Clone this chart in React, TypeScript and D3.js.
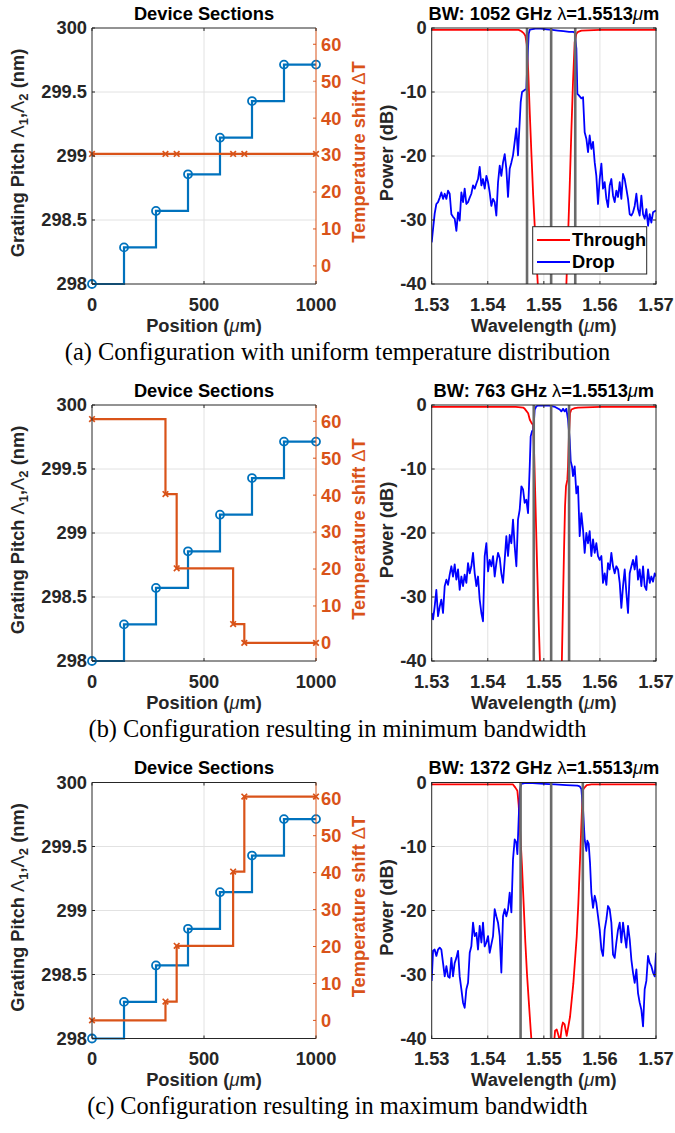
import React from 'react';
import * as d3 from 'd3';

// ---------------- data ----------------
const positions = [0, 142.9, 285.7, 428.6, 571.4, 714.3, 857.1, 1000];
const pitch = [298.0, 298.286, 298.571, 298.857, 299.143, 299.429, 299.714, 299.714];
const tempPositions = [0, 328, 378, 630, 680, 1000];
const tempA = [30.3, 30.3, 30.3, 30.3, 30.3, 30.3];
const tempB = [60.6, 40.3, 20.2, 5.1, 0, 0];
const tempC = [0, 5.1, 20.2, 40.3, 60.6, 60.6];

const posTicks = [0, 500, 1000];
const pitchTicks = [298, 298.5, 299, 299.5, 300];
const tempTicks = [0, 10, 20, 30, 40, 50, 60];
const wlTicks = [1530, 1540, 1550, 1560, 1570];
const dbTicks = [0, -10, -20, -30, -40];

const bandwidthsGHz = [1052, 763, 1372];
const centerNm = 1551.3;
const edgesNm = [
  [1547.0, 1555.6],
  [1548.2, 1554.5],
  [1545.85, 1556.95],
];
const captions = [
  '(a) Configuration with uniform temperature distribution',
  '(b) Configuration resulting in minimum bandwidth',
  '(c) Configuration resulting in maximum bandwidth',
];

// [wavelength nm, power dB]
const dropA = [[1530.0,-33.5],[1530.24,-31.4],[1530.53,-29.0],[1530.83,-27.5],[1531.13,-27.2],[1531.43,-26.5],[1531.72,-25.7],[1532.02,-26.7],[1532.32,-25.9],[1532.62,-26.7],[1532.91,-25.4],[1533.21,-25.9],[1533.51,-29.1],[1533.80,-29.5],[1534.10,-29.8],[1534.40,-31.7],[1534.70,-28.8],[1534.99,-30.1],[1535.29,-25.7],[1535.59,-27.2],[1535.88,-25.1],[1536.18,-27.5],[1536.48,-27.2],[1536.78,-26.5],[1537.07,-25.9],[1537.37,-24.6],[1537.67,-25.1],[1537.97,-24.3],[1538.26,-23.6],[1538.56,-21.7],[1538.86,-24.6],[1539.15,-23.6],[1539.45,-25.1],[1539.75,-23.1],[1540.05,-24.1],[1540.34,-25.7],[1540.64,-27.8],[1540.94,-26.7],[1541.23,-27.2],[1541.53,-29.3],[1541.83,-24.1],[1542.13,-21.5],[1542.42,-23.1],[1542.72,-21.0],[1543.02,-19.7],[1543.31,-22.0],[1543.61,-26.4],[1543.91,-22.0],[1544.21,-21.0],[1544.50,-19.9],[1544.80,-17.8],[1545.10,-15.7],[1545.39,-19.9],[1545.51,-17.8],[1545.87,-11.6],[1546.11,-10.0],[1546.58,-9.7],[1546.88,-9.5],[1547.06,-5.3],[1547.30,-0.9],[1547.48,-0.3],[1547.77,-0.2],[1548.5,-0.1],[1549.5,-0.1],[1550.5,-0.2],[1551.5,-0.3],[1552.5,-0.4],[1553.5,-0.5],[1554.5,-0.6],[1555.2,-0.6],[1555.5,-0.7],[1555.80,-3.2],[1555.98,-10.3],[1556.21,-10.5],[1556.69,-11.0],[1556.99,-10.8],[1557.28,-16.3],[1557.58,-17.3],[1557.88,-19.4],[1558.17,-16.8],[1558.47,-18.9],[1558.77,-17.8],[1559.07,-21.0],[1559.36,-23.1],[1559.66,-27.5],[1559.96,-23.6],[1560.26,-21.2],[1560.55,-25.1],[1560.85,-24.1],[1561.15,-26.7],[1561.44,-28.0],[1561.74,-24.6],[1562.04,-23.6],[1562.34,-26.2],[1562.63,-27.2],[1562.93,-25.4],[1563.23,-26.4],[1563.53,-24.1],[1563.82,-26.7],[1564.12,-22.8],[1564.42,-23.6],[1564.71,-25.1],[1565.01,-26.7],[1565.31,-29.1],[1565.61,-29.3],[1565.90,-28.8],[1566.20,-27.8],[1566.50,-25.9],[1566.79,-28.3],[1567.09,-29.3],[1567.39,-26.2],[1567.69,-29.1],[1567.98,-29.8],[1568.28,-28.3],[1568.58,-30.9],[1568.88,-29.1],[1569.17,-30.4],[1569.47,-28.8],[1570.0,-28.5]];
const throughA = [[1530,-0.3],[1536,-0.3],[1542,-0.3],[1545.5,-0.3],[1546.0,-0.5],[1546.4,-0.8],[1546.7,-1.2],[1546.95,-2.5],[1547.2,-6.5],[1547.5,-13.5],[1547.8,-20.0],[1548.1,-26.2],[1548.4,-31.4],[1548.7,-36.6],[1548.95,-40.5],[1549.5,-48],[1551.5,-55],[1553.5,-48],[1554.0,-40.5],[1554.3,-33.0],[1554.6,-25.0],[1554.9,-16.3],[1555.2,-8.4],[1555.5,-2.2],[1555.8,-0.9],[1556.1,-0.6],[1556.7,-0.4],[1560,-0.3],[1565,-0.3],[1570,-0.3]];

const dropB = [[1530.0,-32.5],[1530.24,-33.5],[1530.53,-31.5],[1530.83,-28.9],[1531.13,-33.0],[1531.43,-31.5],[1531.72,-30.4],[1532.02,-32.5],[1532.32,-28.3],[1532.62,-27.3],[1532.91,-28.1],[1533.21,-26.5],[1533.51,-25.2],[1533.80,-26.8],[1534.10,-24.9],[1534.40,-27.3],[1534.70,-25.7],[1534.99,-28.9],[1535.29,-26.8],[1535.59,-28.3],[1535.88,-26.5],[1536.18,-27.8],[1536.48,-24.7],[1536.78,-26.3],[1537.07,-25.2],[1537.37,-23.1],[1537.67,-26.3],[1537.97,-28.3],[1538.26,-26.8],[1538.56,-30.4],[1538.86,-32.5],[1539.15,-33.8],[1539.45,-23.6],[1539.75,-21.6],[1540.05,-26.0],[1540.34,-24.2],[1540.64,-25.2],[1540.94,-23.6],[1541.23,-26.8],[1541.53,-24.7],[1541.83,-23.1],[1542.13,-23.9],[1542.42,-26.3],[1542.72,-27.8],[1543.02,-24.2],[1543.31,-20.5],[1543.61,-23.6],[1543.91,-20.3],[1544.21,-21.6],[1544.50,-17.9],[1544.80,-22.1],[1545.10,-25.2],[1545.39,-17.9],[1545.69,-16.4],[1545.99,-12.7],[1546.29,-13.2],[1546.58,-15.3],[1546.88,-14.8],[1547.18,-16.9],[1547.48,-9.6],[1547.65,-4.9],[1547.89,-4.1],[1548.13,-3.9],[1548.37,-0.7],[1548.66,-0.2],[1548.96,-0.1],[1550.0,-0.1],[1551.0,-0.1],[1552.0,-0.3],[1552.83,-0.7],[1553.12,-1.0],[1553.42,-0.6],[1553.72,-1.0],[1554.01,-0.6],[1554.31,-2.3],[1554.61,-5.4],[1554.79,-8.8],[1555.02,-9.6],[1555.20,-11.1],[1555.50,-9.6],[1555.80,-13.8],[1556.09,-12.7],[1556.39,-20.5],[1556.69,-16.9],[1556.99,-19.5],[1557.28,-23.1],[1557.58,-20.0],[1557.88,-21.6],[1558.17,-19.7],[1558.47,-23.6],[1558.77,-21.0],[1559.07,-23.1],[1559.36,-21.6],[1559.66,-23.6],[1559.96,-24.2],[1560.26,-23.6],[1560.55,-27.8],[1560.85,-26.3],[1561.15,-28.1],[1561.44,-24.7],[1561.74,-25.7],[1562.04,-23.1],[1562.34,-25.2],[1562.63,-26.3],[1562.93,-25.2],[1563.23,-25.7],[1563.53,-27.8],[1563.82,-31.7],[1564.12,-28.3],[1564.42,-25.7],[1564.71,-29.3],[1565.01,-32.5],[1565.31,-26.3],[1565.61,-25.2],[1565.90,-24.2],[1566.20,-25.7],[1566.50,-23.6],[1566.79,-27.3],[1567.09,-25.7],[1567.39,-28.3],[1567.69,-25.2],[1567.98,-28.3],[1568.28,-28.9],[1568.58,-25.7],[1568.88,-27.8],[1569.17,-26.8],[1569.47,-27.6],[1569.77,-26.3],[1570.0,-26.8]];
const throughB = [[1530,-0.3],[1540,-0.3],[1545,-0.3],[1546.3,-0.4],[1546.6,-0.6],[1547.2,-1.3],[1547.5,-2.3],[1547.8,-2.8],[1548.07,-3.1],[1548.25,-7.0],[1548.49,-14.8],[1548.72,-22.6],[1548.96,-30.4],[1549.14,-35.6],[1549.32,-40.5],[1550.0,-50],[1552.5,-50],[1553.2,-40.5],[1553.42,-30.4],[1553.6,-22.6],[1553.78,-15.8],[1553.95,-12.7],[1554.19,-11.7],[1554.31,-9.6],[1554.49,-4.4],[1554.67,-1.3],[1554.91,-0.7],[1555.5,-0.5],[1556.1,-0.4],[1560,-0.3],[1570,-0.3]];

const dropC = [[1530.0,-31.0],[1530.24,-26.3],[1530.53,-26.1],[1530.83,-27.1],[1531.13,-26.1],[1531.43,-25.8],[1531.72,-26.1],[1532.02,-28.2],[1532.32,-30.3],[1532.62,-28.7],[1532.91,-30.3],[1533.21,-30.5],[1533.51,-27.4],[1533.80,-30.3],[1534.10,-28.2],[1534.40,-27.4],[1534.70,-26.3],[1534.99,-30.3],[1535.29,-32.3],[1535.59,-34.4],[1535.88,-35.2],[1536.18,-32.3],[1536.48,-31.3],[1536.78,-26.6],[1537.07,-25.6],[1537.37,-21.9],[1537.67,-24.0],[1537.97,-23.5],[1538.26,-26.1],[1538.56,-22.4],[1538.86,-25.0],[1539.15,-21.9],[1539.45,-25.6],[1539.75,-25.0],[1540.05,-24.0],[1540.34,-26.6],[1540.64,-25.3],[1540.94,-24.0],[1541.23,-19.8],[1541.53,-20.9],[1541.83,-21.9],[1542.13,-24.0],[1542.42,-29.7],[1542.72,-20.9],[1543.02,-19.8],[1543.31,-20.9],[1543.61,-19.8],[1543.91,-17.2],[1544.21,-20.3],[1544.50,-12.0],[1544.80,-8.9],[1545.10,-9.4],[1545.28,-11.2],[1545.51,-5.7],[1545.75,-1.0],[1545.99,-0.2],[1546.58,-0.1],[1548.0,-0.1],[1550.0,-0.2],[1552.0,-0.3],[1554.0,-0.4],[1556.0,-0.5],[1556.39,-0.6],[1556.69,-1.0],[1556.99,-4.2],[1557.28,-8.9],[1557.58,-10.7],[1557.76,-9.1],[1558.0,-9.6],[1558.23,-12.5],[1558.47,-17.2],[1558.77,-19.6],[1559.07,-17.7],[1559.36,-18.8],[1559.66,-20.9],[1559.96,-23.0],[1560.26,-26.1],[1560.55,-27.1],[1560.85,-23.0],[1561.15,-21.4],[1561.44,-19.3],[1561.74,-19.8],[1562.04,-21.9],[1562.34,-26.9],[1562.63,-27.4],[1562.93,-25.0],[1563.23,-23.0],[1563.53,-21.9],[1563.82,-25.0],[1564.12,-21.9],[1564.42,-24.0],[1564.71,-25.8],[1565.01,-22.4],[1565.31,-24.5],[1565.61,-27.7],[1565.90,-29.7],[1566.20,-31.3],[1566.50,-29.2],[1566.79,-32.9],[1567.09,-34.4],[1567.39,-35.5],[1567.69,-38.1],[1567.98,-32.3],[1568.28,-31.0],[1568.58,-27.1],[1568.88,-28.2],[1569.17,-28.7],[1569.47,-29.7],[1569.77,-30.3],[1570.0,-26.6]];
const throughC = [[1530,-0.3],[1540,-0.3],[1544.5,-0.3],[1544.92,-0.8],[1545.28,-1.3],[1545.51,-3.5],[1545.8,-8],[1546.1,-13],[1546.4,-19],[1546.7,-25],[1547.0,-30],[1547.3,-34],[1547.65,-38.6],[1547.85,-41],[1549.0,-50],[1550.8,-50],[1551.8,-41],[1552.0,-38.8],[1552.3,-38.6],[1552.6,-39.5],[1552.9,-40.5],[1553.2,-38.2],[1553.4,-37.5],[1553.7,-37.8],[1554.07,-39.6],[1554.67,-36.6],[1555.26,-31.4],[1555.86,-24.1],[1556.15,-18.9],[1556.45,-12.1],[1556.75,-5.3],[1556.93,-1.2],[1557.16,-0.9],[1557.64,-0.4],[1558.5,-0.3],[1565,-0.3],[1570,-0.3]];

const temps = [tempA, tempB, tempC];
const drops = [dropA, dropB, dropC];
const throughs = [throughA, throughB, throughC];

// ---------------- style ----------------
const FONT = "'Liberation Sans', Arial, Helvetica, sans-serif";
const SERIF = "'Liberation Serif', 'Times New Roman', serif";
const AX = '#262626';
const ORANGE = '#D95319';
const BLUE = '#0072BD';
const GRID = '#e2e2e2';
const FS = 18.3;
const ROW_OFFSETS = [0, 377, 754.5];
const TOP = 28;
const BOTTOM = 284;
const L = { x0: 92, x1: 316 };
const R = { x0: 431.7, x1: 656 };
const TICK = 3;

function LeftPanel({ temp }: { temp: number[] }) {
  const x = d3.scaleLinear().domain([0, 1000]).range([L.x0, L.x1]);
  const y = d3.scaleLinear().domain([298, 300]).range([BOTTOM, TOP]);
  const yT = d3.scaleLinear().domain([-4.9, 64.4]).range([BOTTOM, TOP]);
  const pitchPath = d3.line<number>().x((_, i) => x(positions[i])).y((d) => y(d)).curve(d3.curveStepAfter)(pitch) || '';
  const tempPath = d3.line<number>().x((_, i) => x(tempPositions[i])).y((d) => yT(d)).curve(d3.curveStepAfter)(temp) || '';
  const cy = (TOP + BOTTOM) / 2;
  return (
    <g>
      {posTicks.filter((v) => v > 0 && v < 1000).map((v) => (
        <line key={'gx' + v} x1={x(v)} x2={x(v)} y1={TOP} y2={BOTTOM} stroke={GRID} strokeWidth={1} />
      ))}
      {pitchTicks.filter((v) => v > 298 && v < 300).map((v) => (
        <line key={'gy' + v} x1={L.x0} x2={L.x1} y1={y(v)} y2={y(v)} stroke={GRID} strokeWidth={1} />
      ))}
      <path d={pitchPath} fill="none" stroke={BLUE} strokeWidth={2.2} />
      {positions.map((p, i) => (
        <circle key={'c' + i} cx={x(p)} cy={y(pitch[i])} r={4} fill="none" stroke={BLUE} strokeWidth={1.8} />
      ))}
      <path d={tempPath} fill="none" stroke={ORANGE} strokeWidth={2.2} />
      {tempPositions.map((p, i) => (
        <path key={'m' + i} transform={`translate(${x(p)},${yT(temp[i])})`} d="M-2.8,-2.8L2.8,2.8M-2.8,2.8L2.8,-2.8" stroke={ORANGE} strokeWidth={1.7} />
      ))}
      {/* axes */}
      <line x1={L.x0} x2={L.x1} y1={TOP} y2={TOP} stroke={AX} strokeWidth={1} />
      <line x1={L.x0} x2={L.x1} y1={BOTTOM} y2={BOTTOM} stroke={AX} strokeWidth={1} />
      <line x1={L.x0} x2={L.x0} y1={TOP} y2={BOTTOM} stroke={AX} strokeWidth={1} />
      <line x1={L.x1} x2={L.x1} y1={TOP} y2={BOTTOM} stroke={ORANGE} strokeWidth={1} />
      {posTicks.map((v) => (
        <g key={'tx' + v}>
          <line x1={x(v)} x2={x(v)} y1={BOTTOM} y2={BOTTOM - TICK} stroke={AX} />
          <line x1={x(v)} x2={x(v)} y1={TOP} y2={TOP + TICK} stroke={AX} />
          <text x={x(v)} y={BOTTOM + 26.5} textAnchor="middle" fontFamily={FONT} fontWeight="bold" fontSize={FS} fill={AX}>{v}</text>
        </g>
      ))}
      {pitchTicks.map((v) => (
        <g key={'ty' + v}>
          <line x1={L.x0} x2={L.x0 + TICK} y1={y(v)} y2={y(v)} stroke={AX} />
          <text x={L.x0 - 5} y={y(v) + 6.4} textAnchor="end" fontFamily={FONT} fontWeight="bold" fontSize={FS} fill={AX}>{v}</text>
        </g>
      ))}
      {tempTicks.map((v) => (
        <g key={'tt' + v}>
          <line x1={L.x1} x2={L.x1 - TICK} y1={yT(v)} y2={yT(v)} stroke={ORANGE} />
          <text x={L.x1 + 5} y={yT(v) + 6.4} textAnchor="start" fontFamily={FONT} fontWeight="bold" fontSize={FS} fill={ORANGE}>{v}</text>
        </g>
      ))}
      <text x={(L.x0 + L.x1) / 2} y={19.7} textAnchor="middle" fontFamily={FONT} fontWeight="bold" fontSize={FS} fill="#000">Device Sections</text>
      <text x={(L.x0 + L.x1) / 2} y={331.5} textAnchor="middle" fontFamily={FONT} fontWeight="bold" fontSize={FS} fill={AX}>
        Position (<tspan fontStyle="italic" fontWeight="normal">μ</tspan>m)
      </text>
      <text transform={`translate(23.5,${cy - 3}) rotate(-90)`} textAnchor="middle" fontFamily={FONT} fontWeight="bold" fontSize={FS} fill={AX}>
        Grating Pitch <tspan fontWeight="normal">Λ</tspan><tspan dy={4} fontSize={13}>1</tspan><tspan dy={-4}>,</tspan><tspan fontWeight="normal">Λ</tspan><tspan dy={4} fontSize={13}>2</tspan><tspan dy={-4}> (nm)</tspan>
      </text>
      <text transform={`translate(364.5,${cy - 4}) rotate(-90)`} textAnchor="middle" fontFamily={FONT} fontWeight="bold" fontSize={FS} fill={ORANGE}>
        Temperature shift <tspan fontWeight="normal">Δ</tspan>T
      </text>
    </g>
  );
}

function RightPanel({ idx }: { idx: number }) {
  const x = d3.scaleLinear().domain([1530, 1570]).range([R.x0, R.x1]);
  const y = d3.scaleLinear().domain([-40, 0]).range([BOTTOM, TOP]);
  const line = d3.line<number[]>().x((d) => x(d[0])).y((d) => y(d[1]));
  const clipId = 'clip' + idx;
  const cy = (TOP + BOTTOM) / 2;
  const vlines = [edgesNm[idx][0], centerNm, edgesNm[idx][1]];
  return (
    <g>
      <defs>
        <clipPath id={clipId}>
          <rect x={R.x0} y={TOP} width={R.x1 - R.x0} height={BOTTOM - TOP} />
        </clipPath>
      </defs>
      {wlTicks.filter((v) => v > 1530 && v < 1570).map((v) => (
        <line key={'gx' + v} x1={x(v)} x2={x(v)} y1={TOP} y2={BOTTOM} stroke={GRID} strokeWidth={1} />
      ))}
      {dbTicks.filter((v) => v < 0 && v > -40).map((v) => (
        <line key={'gy' + v} x1={R.x0} x2={R.x1} y1={y(v)} y2={y(v)} stroke={GRID} strokeWidth={1} />
      ))}
      <g clipPath={`url(#${clipId})`}>
        <path d={line(throughs[idx] as number[][]) || ''} fill="none" stroke="#FF0000" strokeWidth={1.8} strokeLinejoin="round" />
        <path d={line(drops[idx] as number[][]) || ''} fill="none" stroke="#0000FF" strokeWidth={1.8} strokeLinejoin="round" />
        {vlines.map((v, i) => (
          <line key={'v' + i} x1={x(v)} x2={x(v)} y1={TOP} y2={BOTTOM} stroke="#6a6a6a" strokeWidth={2.6} />
        ))}
      </g>
      <rect x={R.x0} y={TOP} width={R.x1 - R.x0} height={BOTTOM - TOP} fill="none" stroke={AX} strokeWidth={1} />
      {wlTicks.map((v) => (
        <g key={'tx' + v}>
          <line x1={x(v)} x2={x(v)} y1={BOTTOM} y2={BOTTOM - TICK} stroke={AX} />
          <line x1={x(v)} x2={x(v)} y1={TOP} y2={TOP + TICK} stroke={AX} />
          <text x={x(v)} y={BOTTOM + 26.5} textAnchor="middle" fontFamily={FONT} fontWeight="bold" fontSize={FS} fill={AX}>{(v / 1000).toFixed(2)}</text>
        </g>
      ))}
      {dbTicks.map((v) => (
        <g key={'ty' + v}>
          <line x1={R.x0} x2={R.x0 + TICK} y1={y(v)} y2={y(v)} stroke={AX} />
          <line x1={R.x1} x2={R.x1 - TICK} y1={y(v)} y2={y(v)} stroke={AX} />
          <text x={R.x0 - 5} y={y(v) + 6.4} textAnchor="end" fontFamily={FONT} fontWeight="bold" fontSize={FS} fill={AX}>{v}</text>
        </g>
      ))}
      <text x={(R.x0 + R.x1) / 2} y={19.7} textAnchor="middle" fontFamily={FONT} fontWeight="bold" fontSize={FS} fill="#000">
        BW: {bandwidthsGHz[idx]} GHz <tspan fontWeight="normal">λ</tspan>=1.5513<tspan fontStyle="italic" fontWeight="normal">μ</tspan>m
      </text>
      <text x={(R.x0 + R.x1) / 2} y={331.5} textAnchor="middle" fontFamily={FONT} fontWeight="bold" fontSize={FS} fill={AX}>
        Wavelength (<tspan fontStyle="italic" fontWeight="normal">μ</tspan>m)
      </text>
      <text transform={`translate(392.5,${cy - 3}) rotate(-90)`} textAnchor="middle" fontFamily={FONT} fontWeight="bold" fontSize={FS} fill={AX}>
        Power (dB)
      </text>
      {idx === 0 && (
        <g>
          <rect x={532.7} y={226.7} width={114} height={47.3} fill="#fff" stroke={AX} strokeWidth={1} />
          <line x1={537} x2={570} y1={240} y2={240} stroke="#FF0000" strokeWidth={1.8} />
          <text x={572} y={246.4} fontFamily={FONT} fontWeight="bold" fontSize={FS} fill="#000">Through</text>
          <line x1={537} x2={570} y1={262} y2={262} stroke="#0000FF" strokeWidth={1.8} />
          <text x={572} y={268.4} fontFamily={FONT} fontWeight="bold" fontSize={FS} fill="#000">Drop</text>
        </g>
      )}
    </g>
  );
}

export default function App() {
  return (
    <svg width={675} height={1133} viewBox="0 0 675 1133" style={{ position: 'absolute', left: 0, top: 0, background: '#fff' }}>
      <rect x={0} y={0} width={675} height={1133} fill="#fff" />
      {ROW_OFFSETS.map((off, i) => (
        <g key={i} transform={`translate(0,${off})`}>
          <LeftPanel temp={temps[i]} />
          <RightPanel idx={i} />
          <text x={337.5} y={359.5} textAnchor="middle" fontFamily={SERIF} fontSize={24.4} fill="#000">{captions[i]}</text>
        </g>
      ))}
    </svg>
  );
}
